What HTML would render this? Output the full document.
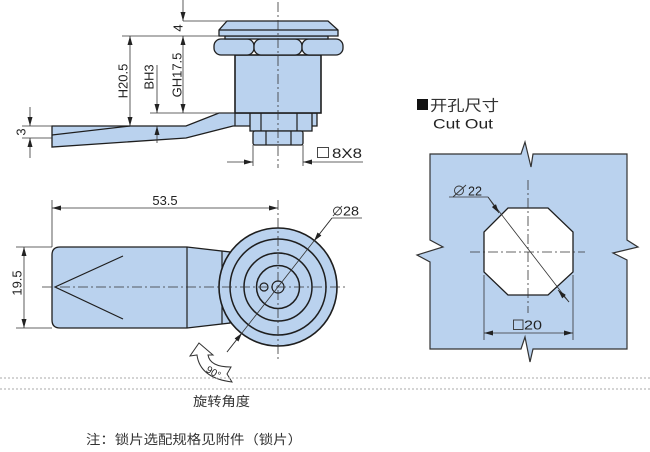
<!DOCTYPE html>
<html><head><meta charset="utf-8">
<style>
html,body{margin:0;padding:0;background:#fff;width:650px;height:452px;overflow:hidden}
svg{display:block}
text{font-family:"Liberation Sans","Noto Sans CJK SC",sans-serif;fill:#222}
.cjk{font-family:"Liberation Sans","Noto Sans CJK SC",sans-serif;fill:#333}
.o{fill:#bad2ee;stroke:#1e1e1e;stroke-width:1.3}
.l{stroke:#1e1e1e;stroke-width:1.2;fill:none}
.d{stroke:#333;stroke-width:0.8;fill:none}
.dm{stroke:#333;stroke-width:0.8;fill:none;marker-end:url(#ar)}
.c{stroke:#333;stroke-width:0.8;fill:none;stroke-dasharray:10 3 2 3}
</style></head><body>
<svg width="650" height="452" viewBox="0 0 650 452" xmlns="http://www.w3.org/2000/svg">
<defs>
<marker id="ar" markerUnits="userSpaceOnUse" markerWidth="9" markerHeight="5" refX="9" refY="2.5" orient="auto"><path d="M0,0 L9,2.5 L0,5 z" fill="#222"/></marker>
</defs>

<!-- ===== Side view ===== -->
<polygon class="o" points="52,126 186,126 219,113 317,113 317,126 233,126 186,138 52,147"/>
<line class="l" x1="235" y1="113" x2="235" y2="126"/>
<line class="l" x1="52" y1="135" x2="130" y2="126"/>
<rect class="o" x="250" y="113" width="62" height="18"/>
<line class="l" x1="261" y1="113" x2="261" y2="131"/>
<line class="l" x1="297" y1="113" x2="297" y2="131"/>
<rect class="o" x="253" y="131" width="50" height="14" rx="2"/>
<line class="l" x1="266" y1="131" x2="266" y2="145"/>
<line class="l" x1="291" y1="131" x2="291" y2="145"/>
<rect class="o" x="235" y="55" width="86" height="58" style="stroke-width:1.6"/>
<rect class="o" x="214" y="39" width="40" height="16" rx="7"/>
<rect class="o" x="254" y="39" width="48" height="16" rx="7"/>
<rect class="o" x="302" y="39" width="41" height="16" rx="7"/>
<rect class="o" x="225" y="36" width="103" height="3"/>
<polygon class="o" points="227,21 328,21 338,30 338,36 219,36 219,30"/>
<line class="l" x1="219" y1="30" x2="338" y2="30"/>
<line class="c" x1="278" y1="2" x2="278" y2="168"/>

<!-- side view dims -->
<line class="d" x1="183" y1="21" x2="227" y2="21"/>
<line class="d" x1="122" y1="36" x2="219" y2="36"/>
<line class="d" x1="150" y1="113" x2="235" y2="113"/>
<line class="d" x1="22" y1="126" x2="52" y2="126"/>
<line class="d" x1="22" y1="138" x2="52" y2="138"/>
<line class="dm" x1="183" y1="0" x2="183" y2="21"/>
<line class="dm" x1="183" y1="74" x2="183" y2="36"/>
<line class="dm" x1="183" y1="74" x2="183" y2="113"/>
<line class="dm" x1="130" y1="80" x2="130" y2="36"/>
<line class="dm" x1="130" y1="80" x2="130" y2="126"/>
<line class="dm" x1="157" y1="65" x2="157" y2="113"/>
<line class="dm" x1="157" y1="143" x2="157" y2="126"/>
<line class="dm" x1="30" y1="107" x2="30" y2="126"/>
<line class="dm" x1="30" y1="158" x2="30" y2="138"/>
<line class="dm" x1="227" y1="162" x2="253" y2="162"/>
<line class="dm" x1="363" y1="162" x2="303" y2="162"/>
<line class="d" x1="253" y1="145" x2="253" y2="166"/>
<line class="d" x1="303" y1="145" x2="303" y2="166"/>
<text font-size="13" text-anchor="middle" dominant-baseline="central" transform="translate(178,28) rotate(-90)">4</text>
<text font-size="13" text-anchor="middle" dominant-baseline="central" transform="translate(177,75) rotate(-90)">GH17.5</text>
<text font-size="13" text-anchor="middle" dominant-baseline="central" transform="translate(123,81) rotate(-90)">H20.5</text>
<text font-size="13" text-anchor="middle" dominant-baseline="central" transform="translate(149,77) rotate(-90)">BH3</text>
<text font-size="13" text-anchor="middle" dominant-baseline="central" transform="translate(21,132) rotate(-90)">3</text>
<rect x="317.5" y="147.5" width="11" height="10" fill="none" stroke="#333" stroke-width="0.9"/>
<text x="332" y="158" font-size="14" textLength="30" lengthAdjust="spacingAndGlyphs">8X8</text>

<!-- ===== Top view ===== -->
<path class="o" d="M52,255 Q52,247 60,247 L187,247 L230,252 L230,323 L187,328 L60,328 Q52,328 52,320 Z"/>
<line class="l" x1="187" y1="247" x2="187" y2="328"/>
<line class="l" x1="222" y1="251" x2="222" y2="324"/>
<polyline class="l" points="123,256 55,287 123,319"/>
<circle class="o" cx="278" cy="287" r="59" style="stroke-width:1.6"/>
<circle class="l" cx="278" cy="287" r="48" style="stroke-width:1.5"/>
<circle class="l" cx="278" cy="287" r="34" style="stroke-width:1.5"/>
<circle class="l" cx="278" cy="287" r="21.5" style="stroke-width:1.5"/>
<circle class="l" cx="278" cy="287" r="6"/>
<circle class="l" cx="264" cy="287" r="4"/>
<line class="c" x1="42" y1="287" x2="345" y2="287"/>
<line class="c" x1="278" y1="200" x2="278" y2="362"/>

<!-- top view dims -->
<line class="d" x1="52" y1="200" x2="52" y2="247"/>
<line class="dm" x1="165" y1="208" x2="52" y2="208"/>
<line class="dm" x1="165" y1="208" x2="278" y2="208"/>
<text x="165" y="205" font-size="13" text-anchor="middle">53.5</text>
<line class="d" x1="16" y1="247" x2="52" y2="247"/>
<line class="d" x1="16" y1="328" x2="52" y2="328"/>
<line class="dm" x1="24" y1="287" x2="24" y2="247"/>
<line class="dm" x1="24" y1="287" x2="24" y2="328"/>
<text font-size="13" text-anchor="middle" dominant-baseline="central" transform="translate(17,283) rotate(-90)">19.5</text>
<line class="d" x1="227" y1="352" x2="332" y2="218"/>
<line class="dm" x1="332" y1="218" x2="314" y2="241"/>
<line class="dm" x1="227" y1="352" x2="242" y2="333"/>
<line class="d" x1="332" y1="218" x2="362" y2="218"/>
<circle cx="337.5" cy="211" r="4" fill="none" stroke="#333" stroke-width="0.9"/>
<line x1="333" y1="216" x2="342" y2="206" stroke="#333" stroke-width="0.9"/>
<text x="343" y="215.5" font-size="12.5" textLength="16" lengthAdjust="spacingAndGlyphs">28</text>

<!-- rotation arrow -->
<path d="M199,343 L213,355 L208,355 Q210,367 231,367 L227,374 L232,382 Q200,378 197,355 L190,356 Z" fill="#fff" stroke="#333" stroke-width="1"/>
<text font-size="10" text-anchor="middle" dominant-baseline="central" transform="translate(213,373) rotate(30)">90°</text>

<!-- ===== Cut out ===== -->
<rect x="417" y="99" width="11" height="11" fill="#111"/>
<text class="cjk" x="430" y="110.5" font-size="15" textLength="69" lengthAdjust="spacingAndGlyphs">开孔尺寸</text>
<text x="433" y="128.5" font-size="14" textLength="60" lengthAdjust="spacingAndGlyphs">Cut Out</text>
<path d="M430,154 L521,154 L525,142 L531,167 L533,154 L627,154 L627,240 L638,247 L613,253 L627,260 L627,349 L533,349 L530,362 L525,337 L521,349 L430,349 L430,262 L417,255 L443,247 L430,240 Z" fill="#bad2ee" stroke="#333" stroke-width="1.2"/>
<polygon points="508,208 548,208 573,232 573,272 548,295 508,295 484,272 484,232" fill="#fff" stroke="#1e1e1e" stroke-width="1.3"/>
<line class="c" x1="470" y1="252" x2="585" y2="252"/>
<line class="c" x1="528" y1="180" x2="528" y2="313"/>
<line class="d" x1="449" y1="197" x2="488" y2="197"/>
<line class="d" x1="488" y1="197" x2="569" y2="302"/>
<line class="dm" x1="488" y1="197" x2="499" y2="213"/>
<line class="dm" x1="569" y1="302" x2="558" y2="290"/>
<circle cx="459" cy="190.5" r="4.5" fill="none" stroke="#333" stroke-width="0.9"/>
<line x1="453" y1="197" x2="466" y2="185" stroke="#333" stroke-width="0.9"/>
<text x="468" y="195.5" font-size="12.5" textLength="14" lengthAdjust="spacingAndGlyphs">22</text>
<line class="d" x1="484" y1="275" x2="484" y2="340"/>
<line class="d" x1="573" y1="275" x2="573" y2="340"/>
<line class="dm" x1="528" y1="333" x2="484" y2="333"/>
<line class="dm" x1="528" y1="333" x2="573" y2="333"/>
<rect x="513.5" y="320" width="9.5" height="9.5" fill="none" stroke="#333" stroke-width="0.9"/>
<text x="524" y="329.5" font-size="13" textLength="18" lengthAdjust="spacingAndGlyphs">20</text>

<!-- dotted separators -->
<line x1="0" y1="378" x2="650" y2="378" stroke="#aaa" stroke-width="1" stroke-dasharray="2 2"/>
<line x1="0" y1="389" x2="650" y2="389" stroke="#aaa" stroke-width="1" stroke-dasharray="2 2"/>

<text class="cjk" x="193" y="406" font-size="13" textLength="57" lengthAdjust="spacingAndGlyphs">旋转角度</text>
<text class="cjk" x="86" y="444" font-size="13" textLength="216" lengthAdjust="spacingAndGlyphs">注：锁片选配规格见附件（锁片）</text>
</svg>
</body></html>
